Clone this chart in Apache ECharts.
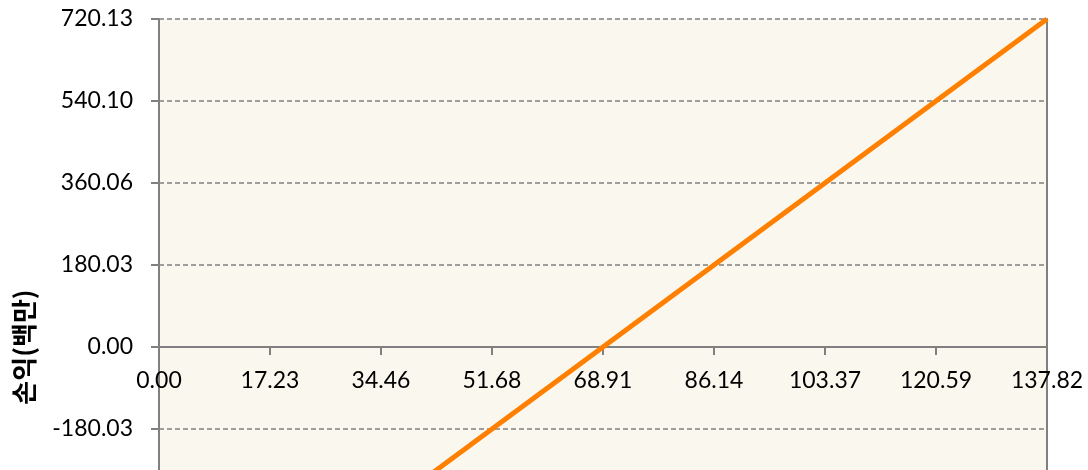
<!DOCTYPE html>
<html>
<head>
<meta charset="utf-8">
<script src="https://cdn.jsdelivr.net/npm/echarts@6/dist/echarts.min.js"></script>
<style>
  html, body { margin: 0; padding: 0; background: #fff; overflow: hidden; }
  #chart { width: 1088px; height: 700px; }
</style>
</head>
<body>
<div id="chart"></div>
<script>
// x축 가격 구간
const priceLabels = ['0.00', '17.23', '34.46', '51.68', '68.91', '86.14', '103.37', '120.59', '137.82']
// 손익 (백만)
const profitValues = [-720.13, -540.10, -360.06, -180.03, 0.00, 180.03, 360.06, 540.10, 720.13]
// y축 눈금
const yTickLabels = ['-720.13', '-540.10', '-360.06', '-180.03', '0.00', '180.03', '360.06', '540.10', '720.13']

const yMin = -720.13
const yMax = 720.13
const yStep = (yMax - yMin) / (yTickLabels.length - 1)

const gridTop = 19
const gridHeight = 656
// x축을 0 위치로 올리기 위한 거리 (라벨도 같이 이동)
const zeroOffset = -gridHeight * (0 - yMin) / (yMax - yMin)

const myEchart = echarts.init(document.getElementById('chart'))

const labelFont = {
  color: '#000',
  fontFamily: 'Lato',
  fontSize: 23
}

const options = {
  animation: false,
  grid: {
    left: 159,
    right: 41,
    top: gridTop,
    height: gridHeight, // 화면(470px) 아래쪽은 잘림
    outerBoundsMode: 'none',
    containLabel: false,
    show: true,
    backgroundColor: '#FAF7EE',
    borderWidth: 0
  },
  xAxis: {
    type: 'category',
    position: 'bottom',
    offset: zeroOffset,
    boundaryGap: false,
    data: priceLabels,
    axisLine: {
      onZero: false,
      lineStyle: { color: '#808080', width: 2 }
    },
    axisTick: {
      show: true,
      length: 8,
      interval: 0,
      lineStyle: { color: '#808080', width: 2 }
    },
    axisLabel: Object.assign({ interval: 0, margin: 22 }, labelFont),
    splitLine: { show: false }
  },
  yAxis: [
    {
      type: 'value',
      min: yMin,
      max: yMax,
      interval: yStep,
      name: '손익(백만)',
      nameLocation: 'middle',
      nameGap: 122,
      nameTextStyle: {
        color: '#000',
        fontFamily: 'Noto Sans CJK KR',
        fontWeight: 'bold',
        fontSize: 26
      },
      axisLine: {
        show: true,
        onZero: false,
        lineStyle: { color: '#808080', width: 2 }
      },
      axisTick: {
        show: true,
        length: 8,
        lineStyle: { color: '#808080', width: 2 }
      },
      axisLabel: Object.assign({
        margin: 26,
        formatter: (v) => yTickLabels[Math.round((v - yMin) / yStep)]
      }, labelFont),
      splitLine: {
        show: true,
        lineStyle: { color: '#808080', width: 1.5, type: [5, 3] }
      }
    },
    {
      // 오른쪽 테두리
      type: 'value',
      position: 'right',
      min: yMin,
      max: yMax,
      interval: yStep,
      axisLine: {
        show: true,
        onZero: false,
        lineStyle: { color: '#808080', width: 2 }
      },
      axisTick: { show: false },
      axisLabel: { show: false },
      splitLine: { show: false }
    }
  ],
  series: [
    {
      type: 'line',
      data: profitValues,
      symbol: 'none',
      lineStyle: { color: '#FF8000', width: 5 },
      z: 5
    }
  ]
}

myEchart.setOption(options)
</script>
</body>
</html>
